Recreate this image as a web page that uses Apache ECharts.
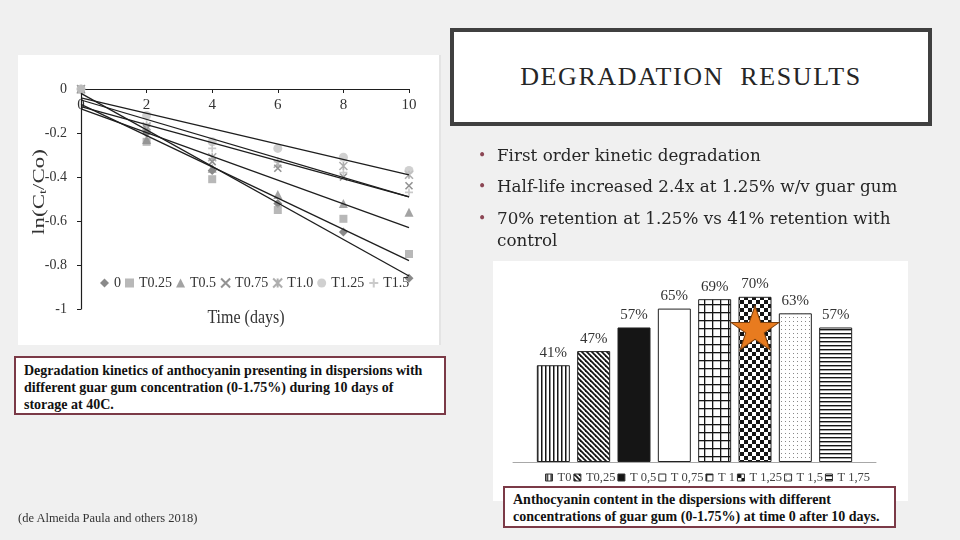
<!DOCTYPE html>
<html>
<head>
<meta charset="utf-8">
<script src="https://cdn.jsdelivr.net/npm/echarts@6/dist/echarts.min.js"></script>
<style>
  body { margin: 0; background: #f0f0f0; }
  #slide { position: relative; width: 960px; height: 540px; overflow: hidden; background: #f0f0f0; }
  .fig { position: absolute; background: #fff; z-index: 0; }
  #chart { position: absolute; left: 0; top: 0; width: 960px; height: 540px; z-index: 1; }
  .title { position: absolute; left: 450px; top: 28px; width: 482px; height: 98px; box-sizing: border-box;
    border: 4px solid #404040; background: #fff; z-index: 2;
    font-family: 'Liberation Serif', serif; font-size: 26px; letter-spacing: 1.6px; color: #262626;
    text-align: center; line-height: 90px; }
  .bullet { position: absolute; left: 497px; z-index: 2; font-family: 'DejaVu Serif', serif; font-size: 16.75px;
    line-height: 22px; color: #262626; white-space: nowrap; }
  .bullet span { position: absolute; left: -19px; top: 0; color: #8c4654; font-size: 14px; }
  .cap { position: absolute; z-index: 2; box-sizing: border-box; border: 2px solid #7b3a47; background: #fff;
    font-family: 'Liberation Serif', serif; font-weight: bold; font-size: 14px; line-height: 17px; color: #111;
    white-space: nowrap; }
  .cite { position: absolute; left: 18px; top: 511px; z-index: 2; font-family: 'Liberation Serif', serif;
    font-size: 12.5px; color: #333; }
</style>
</head>
<body>
<div id="slide">
  <div class="fig" style="left:18px;top:55px;width:421px;height:290px;border-right:2px solid #e4e4e4;"></div>
  <div class="fig" style="left:493px;top:261px;width:415px;height:240px;"></div>
  <div id="chart"></div>
  <div class="title">DEGRADATION&nbsp; RESULTS</div>
  <div class="bullet" style="top:144px"><span>•</span>First order kinetic degradation</div>
  <div class="bullet" style="top:175px"><span>•</span>Half-life increased 2.4x at 1.25% w/v guar gum</div>
  <div class="bullet" style="top:207px"><span>•</span>70% retention at 1.25% vs 41% retention with<br>control</div>
  <div class="cap" style="left:14px;top:356px;width:432px;height:59px;padding:4px 0 0 8px;">Degradation kinetics of anthocyanin presenting in dispersions with<br>different guar gum concentration (0-1.75%) during 10 days of<br>storage at 40C.</div>
  <div class="cap" style="left:503px;top:486px;width:393px;height:42px;padding:3px 0 0 8px;">Anthocyanin content in the dispersions with different<br>concentrations of guar gum (0-1.75%) at time 0 after 10 days.</div>
  <div class="cite">(de Almeida Paula and others 2018)</div>
</div>
<script>
// line chart: ln(Ct/Co) per treatment
var days = [0, 2, 4, 6, 8, 10];
var kineticNames = ['0', 'T0.25', 'T0.5', 'T0.75', 'T1.0', 'T1.25', 'T1.5'];
var ln0   = [0, -0.20, -0.37, -0.52, -0.65, -0.86];
var ln025 = [0, -0.24, -0.41, -0.55, -0.59, -0.75];
var ln05  = [0, -0.23, -0.36, -0.48, -0.52, -0.56];
var ln075 = [0, -0.18, -0.33, -0.36, -0.40, -0.44];
var ln10  = [0, -0.17, -0.31, -0.34, -0.35, -0.39];
var ln125 = [0, -0.12, -0.24, -0.27, -0.31, -0.37];
var ln15  = [0, -0.16, -0.27, -0.33, -0.38, -0.47];
// trendline ends (day 0 and day 10); T1.0 has none
var trendStart = [-0.02, -0.07, -0.09, -0.08, null, -0.04, -0.05];
var trendEnd   = [-0.85, -0.78, -0.63, -0.49, null, -0.39, -0.49];

// bar chart: retention after 10 days
var barCategories = ['T0', 'T0,25', 'T 0,5', 'T 0,75', 'T 1', 'T 1,25', 'T 1,5', 'T 1,75'];
var barValues = [41, 47, 57, 65, 69, 70, 63, 57];

var lnValues = [ln0, ln025, ln05, ln075, ln10, ln125, ln15];
var markers = [
  { symbol: 'diamond', size: 9, color: '#6b6b6b' },
  { symbol: 'rect', size: 8, color: '#a6a6a6' },
  { symbol: 'triangle', size: 9, color: '#8c8c8c' },
  { symbol: 'path://M0,0L10,10M10,0L0,10', size: 7, color: '#777777', line: true },
  { symbol: 'path://M0,0L10,10M10,0L0,10M5,0L5,10', size: 8, color: '#9a9a9a', line: true },
  { symbol: 'circle', size: 9, color: '#c4c4c4' },
  { symbol: 'path://M5,0L5,10M0,5L10,5', size: 8, color: '#bdbdbd', line: true }
];

function makePattern(kind) {
  if (kind === 'black') return '#151515';
  if (kind === 'white') return '#ffffff';
  var c = document.createElement('canvas');
  var s = 8;
  if (kind === 'vline' || kind === 'hline') s = 4;
  if (kind === 'diag') s = 5;
  if (kind === 'dots') s = 4;
  c.width = s; c.height = s;
  var g = c.getContext('2d');
  g.fillStyle = '#fff';
  g.fillRect(0, 0, s, s);
  g.fillStyle = '#151515';
  g.strokeStyle = '#151515';
  if (kind === 'vline') g.fillRect(1, 0, 1.5, s);
  if (kind === 'hline') g.fillRect(0, 1, s, 1.4);
  if (kind === 'grid') { g.fillRect(0, 0, s, 1.3); g.fillRect(0, 0, 1.3, s); }
  if (kind === 'checker') { g.fillRect(0, 0, 4, 4); g.fillRect(4, 4, 4, 4); }
  if (kind === 'dots') { g.fillStyle = '#888'; g.fillRect(1, 1, 1, 1); }
  if (kind === 'diag') {
    g.lineWidth = 1.8;
    [-s, 0, s].forEach(function (k) {
      g.beginPath(); g.moveTo(k - 1, -1); g.lineTo(k + s + 1, s + 1); g.stroke();
    });
  }
  return { image: c, repeat: 'repeat' };
}
var barPatterns = ['vline', 'diag', 'black', 'white', 'grid', 'checker', 'dots', 'hline'];

var series = [];
kineticNames.forEach(function (name, i) {
  var m = markers[i];
  series.push({
    name: name,
    type: 'scatter',
    xAxisIndex: 0,
    yAxisIndex: 0,
    symbol: m.symbol,
    symbolSize: m.size,
    itemStyle: m.line ? { color: m.color, borderColor: m.color, borderWidth: 1.6 } : { color: m.color },
    data: days.map(function (d, j) { return [d, lnValues[i][j]]; }),
    z: 2
  });
});
kineticNames.forEach(function (name, i) {
  if (trendStart[i] === null) return;
  series.push({
    name: 'trend ' + name,
    type: 'line',
    xAxisIndex: 0,
    yAxisIndex: 0,
    showSymbol: false,
    silent: true,
    lineStyle: { color: '#1e1e1e', width: 1.3 },
    data: [[days[0], trendStart[i]], [days[days.length - 1], trendEnd[i]]],
    z: 3
  });
});
barCategories.forEach(function (name, i) {
  var s = {
    name: name,
    type: 'bar',
    xAxisIndex: 1,
    yAxisIndex: 1,
    barWidth: 33,
    barGap: '-100%',
    itemStyle: { color: makePattern(barPatterns[i]), borderColor: '#222', borderWidth: 1 },
    label: {
      show: true,
      position: 'top',
      distance: 5,
      fontFamily: 'Liberation Serif',
      fontSize: 15,
      color: '#333',
      formatter: function (p) { return p.value[1] + '%'; }
    },
    data: [[i, barValues[i]]]
  };
  if (i === 5) {
    s.markPoint = {
      silent: true,
      label: { show: false },
      data: [{
        coord: [i, barValues[i]],
        symbol: 'path://M50,0L61.8,35.1L98.9,35.1L68.9,57L80.3,92.3L50,70.5L19.7,92.3L31.1,57L1.1,35.1L38.2,35.1Z',
        symbolSize: [48, 44],
        symbolOffset: [0, 31],
        itemStyle: { color: '#e87b1f', borderColor: '#7a3f0e', borderWidth: 1 }
      }]
    };
  }
  series.push(s);
});

var serif = 'Liberation Serif';
var option = {
  backgroundColor: 'transparent',
  animation: false,
  grid: [
    { left: 81, top: 89, width: 328, height: 220, outerBoundsMode: 'none' },
    { left: 513, right: 84, top: 226, height: 236, outerBoundsMode: 'none' }
  ],
  legend: [
    {
      data: kineticNames,
      left: 100,
      top: 276,
      padding: 0,
      itemWidth: 9,
      itemHeight: 9,
      itemGap: 4,
      textStyle: { fontFamily: serif, fontSize: 14, color: '#333' }
    },
    {
      data: barCategories,
      left: 545,
      top: 471,
      padding: 0,
      icon: 'rect',
      itemWidth: 7,
      itemHeight: 7,
      itemGap: 2,
      itemStyle: { borderColor: '#333', borderWidth: 1 },
      textStyle: { fontFamily: serif, fontSize: 12.5, color: '#444' }
    }
  ],
  xAxis: [
    {
      type: 'value',
      gridIndex: 0,
      position: 'top',
      min: 0,
      max: 10,
      interval: 2,
      axisLine: { onZero: false, lineStyle: { color: '#1e1e1e', width: 1.2 } },
      axisTick: { inside: true, length: 4, lineStyle: { color: '#1e1e1e' } },
      axisLabel: { inside: true, margin: 9, fontFamily: serif, fontSize: 15, color: '#333' },
      splitLine: { show: false }
    },
    {
      type: 'value',
      gridIndex: 1,
      min: -1,
      max: 8,
      axisLine: { onZero: false, lineStyle: { color: '#a8a8a8', width: 1 } },
      axisTick: { show: false },
      axisLabel: { show: false },
      splitLine: { show: false }
    }
  ],
  yAxis: [
    {
      type: 'value',
      gridIndex: 0,
      min: -1,
      max: 0,
      interval: 0.2,
      axisLine: { show: true, lineStyle: { color: '#1e1e1e', width: 1.2 } },
      axisTick: { show: true, length: 4, lineStyle: { color: '#1e1e1e' } },
      axisLabel: { margin: 14, fontFamily: serif, fontSize: 14, color: '#333' },
      splitLine: { show: false }
    },
    {
      type: 'value',
      gridIndex: 1,
      min: 0,
      max: 100,
      show: false
    }
  ],
  graphic: [
    {
      type: 'text',
      x: 40,
      y: 192,
      rotation: Math.PI / 2,
      scaleX: 1.35,
      style: {
        text: 'ln(C{s|t}/Co)',
        font: '17px "Liberation Serif"',
        fill: '#333',
        align: 'center',
        verticalAlign: 'middle',
        rich: { s: { fontSize: 11, fontFamily: serif, fill: '#333', padding: [7, 0, 0, 0] } }
      }
    },
    {
      type: 'text',
      x: 246,
      y: 318,
      scaleY: 1.2,
      style: {
        text: 'Time (days)',
        font: '16px "Liberation Serif"',
        fill: '#333',
        align: 'center',
        verticalAlign: 'middle'
      }
    }
  ],
  series: series
};

var chart = echarts.init(document.getElementById('chart'));
chart.setOption(option);
</script>
</body>
</html>
